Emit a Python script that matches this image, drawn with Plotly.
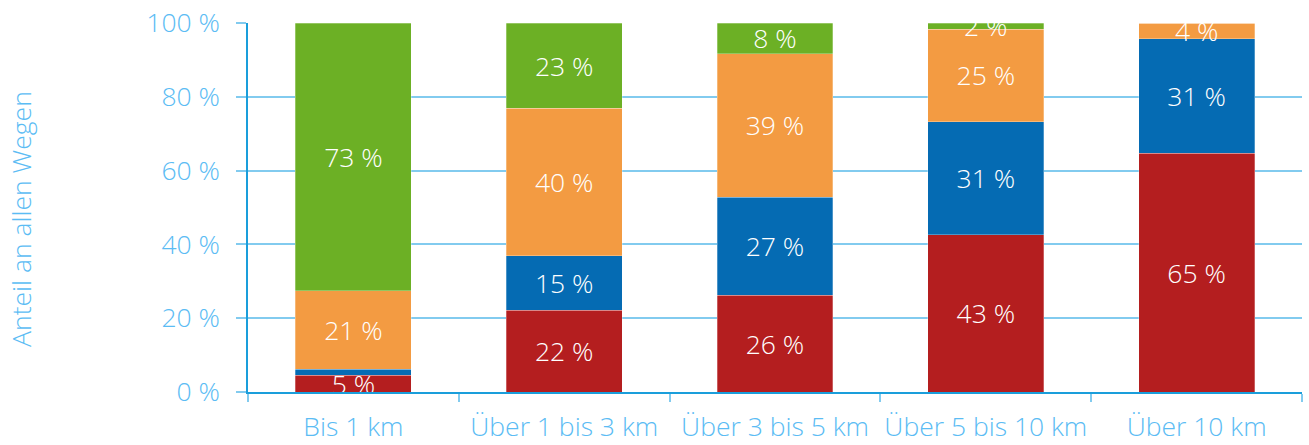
import plotly.graph_objs as go

categories = ["Bis 1 km", "Über 1 bis 3 km", "Über 3 bis 5 km", "Über 5 bis 10 km", "Über 10 km"]

# bar heights in percent, bottom to top
red_values = [4.6, 22.2, 26.2, 42.6, 64.7]
blue_values = [1.6, 14.7, 26.6, 30.7, 31.0]
orange_values = [21.2, 40.0, 38.9, 25.0, 4.3]
green_values = [72.6, 23.1, 8.3, 1.7, 0.0]

# printed labels
red_labels = ["5 %", "22 %", "26 %", "43 %", "65 %"]
blue_labels = ["", "15 %", "27 %", "31 %", "31 %"]
orange_labels = ["21 %", "40 %", "39 %", "25 %", "4 %"]
green_labels = ["73 %", "23 %", "8 %", "2 %", ""]

y_ticks = [0, 20, 40, 60, 80, 100]
y_ticklabels = ["0 %", "20 %", "40 %", "60 %", "80 %", "100 %"]
y_title = "Anteil an allen Wegen"

FONT = "Open Sans"
FS = 26.5
LABEL_BLUE = "#5bbcf4"
GRID_BLUE = "#82cbef"
AXIS_BLUE = "#1a9edb"

fig = go.Figure()

series = [
    (red_values, red_labels, "#b41e1f"),
    (blue_values, blue_labels, "#056bb3"),
    (orange_values, orange_labels, "#f39b42"),
    (green_values, green_labels, "#6cb025"),
]

for vals, labels, color in series:
    fig.add_trace(go.Bar(
        x=categories,
        y=vals,
        text=labels,
        textposition="inside",
        insidetextanchor="middle",
        constraintext="none",
        textangle=0,
        cliponaxis=False,
        textfont=dict(family=FONT, size=FS, color="white", weight=300),
        marker=dict(color=color, line=dict(width=0.8, color="rgba(255,255,255,0.35)")),
        hoverinfo="skip",
        showlegend=False,
    ))

# y title as annotation so it can sit a bit lower than the plot centre, like the original
fig.add_annotation(
    text=y_title,
    xref="paper", yref="paper",
    x=-0.2154, y=0.469,
    xanchor="center", yanchor="middle",
    textangle=-90,
    showarrow=False,
    font=dict(family=FONT, size=FS, color=LABEL_BLUE, weight=300),
)

fig.update_layout(
    width=1309,
    height=445,
    barmode="stack",
    bargap=0.45,
    template="plotly_white",
    paper_bgcolor="white",
    plot_bgcolor="white",
    margin=dict(l=248, r=7, t=23, b=53, autoexpand=False),
    font=dict(family=FONT, color=LABEL_BLUE, weight=300),
    xaxis=dict(
        type="category",
        tickson="boundaries",
        ticks="outside",
        ticklen=8,
        tickwidth=1.5,
        tickcolor=GRID_BLUE,
        tickangle=0,
        showgrid=False,
        zeroline=False,
        showline=True,
        linecolor=AXIS_BLUE,
        linewidth=1.5,
        tickfont=dict(family=FONT, size=FS, color=LABEL_BLUE, weight=300),
        ticklabelstandoff=10,
    ),
    yaxis=dict(
        range=[0, 100],
        tickvals=y_ticks,
        ticktext=y_ticklabels,
        ticks="outside",
        ticklen=10,
        tickwidth=1.5,
        tickcolor=GRID_BLUE,
        showgrid=True,
        gridcolor=GRID_BLUE,
        gridwidth=1.5,
        zeroline=False,
        showline=True,
        linecolor=AXIS_BLUE,
        linewidth=1.5,
        tickfont=dict(family=FONT, size=FS, color=LABEL_BLUE, weight=300),
        ticklabelstandoff=11,
    ),
)

fig.write_html(
    "out.html",
    config={"displayModeBar": False},
    post_script="document.body.style.margin='0';",
)
